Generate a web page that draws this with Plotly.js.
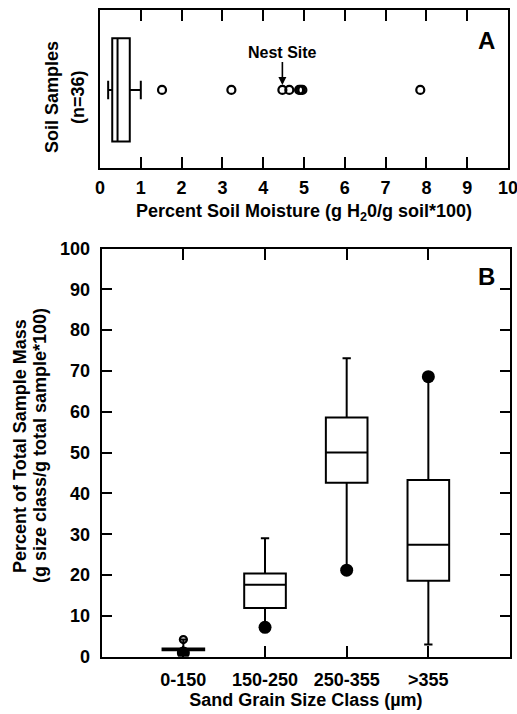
<!DOCTYPE html>
<html>
<head>
<meta charset="utf-8">
<script src="https://cdn.plot.ly/plotly-3.0.1.min.js"></script>
<style>html,body{margin:0;padding:0;background:#fff;}#chart{width:517px;height:714px;}</style>
</head>
<body>
<div id="chart"></div>
<script>
// ---- Panel A: soil moisture (n=36) ----
const moistureLower = [0.20];
const moistureQ1 = [0.30];
const moistureMedian = [0.43];
const moistureQ3 = [0.73];
const moistureUpper = [1.00];
const moistureOutliers = [1.52, 3.22, 4.47, 4.64, 4.88, 4.92, 4.96, 7.85];
const nestSiteMoisture = 4.47;
const moistureTicks = [0, 1, 2, 3, 4, 5, 6, 7, 8, 9, 10];

// ---- Panel B: sand grain size classes ----
const sizeClasses = ['0-150', '150-250', '250-355', '>355'];
const sizeLower = [0.9, 7.2, 21.2, 3.0];
const sizeQ1 = [1.6, 11.9, 42.6, 18.6];
const sizeMedian = [1.8, 17.6, 50.0, 27.4];
const sizeQ3 = [2.0, 20.4, 58.6, 43.3];
const sizeUpper = [4.2, 29.0, 73.1, 68.6];
const nestSiteValues = [0.9, 7.2, 21.2, 68.6];
const openOutlierClasses = ['0-150'];
const openOutlierValues = [4.2];
const percentTicks = [0, 10, 20, 30, 40, 50, 60, 70, 80, 90, 100];

const FONT = 'Arial, "Liberation Sans", sans-serif';
const tickFont = {family: FONT, size: 18, color: '#000', weight: 'bold'};
const W = 517, H = 714;
const boxY = 0.494;

const traces = [
  {
    type: 'box', orientation: 'h', xaxis: 'x', yaxis: 'y',
    y: [boxY], q1: moistureQ1, median: moistureMedian, q3: moistureQ3,
    lowerfence: moistureLower, upperfence: moistureUpper,
    width: 0.654, whiskerwidth: 0.18, boxpoints: false,
    line: {color: '#000', width: 2}, fillcolor: 'rgba(255,255,255,0)',
    showlegend: false, hoverinfo: 'skip'
  },
  {
    type: 'scatter', mode: 'markers', xaxis: 'x', yaxis: 'y',
    x: moistureOutliers, y: moistureOutliers.map(() => boxY),
    marker: {symbol: 'circle-open', size: 8, color: '#000', line: {width: 2.2, color: '#000'}},
    showlegend: false, hoverinfo: 'skip'
  },
  {
    type: 'box', xaxis: 'x2', yaxis: 'y2',
    x: sizeClasses, q1: sizeQ1, median: sizeMedian, q3: sizeQ3,
    lowerfence: sizeLower, upperfence: sizeUpper,
    width: 0.51, whiskerwidth: 0.2, boxpoints: false,
    line: {color: '#000', width: 2}, fillcolor: 'rgba(255,255,255,0)',
    showlegend: false, hoverinfo: 'skip'
  },
  {
    type: 'scatter', mode: 'markers', xaxis: 'x2', yaxis: 'y2',
    x: openOutlierClasses, y: openOutlierValues,
    marker: {symbol: 'circle-open', size: 7, color: '#000', line: {width: 2.2, color: '#000'}},
    showlegend: false, hoverinfo: 'skip'
  },
  {
    type: 'scatter', mode: 'markers', xaxis: 'x2', yaxis: 'y2',
    x: sizeClasses, y: nestSiteValues,
    marker: {symbol: 'circle', size: 13, color: '#000'},
    showlegend: false, hoverinfo: 'skip'
  }
];

function vText(x, y, text) {
  return {xref: 'paper', yref: 'paper', x: x / W, y: 1 - y / H, xanchor: 'center', yanchor: 'middle',
          showarrow: false, textangle: -90, text: text,
          font: {family: FONT, size: 18, weight: 'bold', color: '#000'}};
}

const layout = {
  width: W, height: H,
  margin: {l: 0, r: 0, t: 0, b: 0},
  paper_bgcolor: '#fff', plot_bgcolor: '#fff',
  font: {family: FONT, color: '#000'},
  showlegend: false,
  xaxis: {
    domain: [100 / W, 508 / W], anchor: 'y',
    range: [0, 10], tickvals: moistureTicks, ticklabeloverflow: 'allow',
    ticks: 'inside', ticklen: 11, tickwidth: 2, tickcolor: '#000',
    showline: true, linewidth: 2, linecolor: '#000', mirror: 'ticks',
    showgrid: false, zeroline: false, tickfont: tickFont, ticklabelstandoff: 2,
    title: {text: 'Percent Soil Moisture (g H<sub>2</sub>0/g soil*100)', font: {family: FONT, size: 18, weight: 'bold', color: '#000'}, standoff: 8}
  },
  yaxis: {
    domain: [1 - 168 / H, 1 - 10 / H], anchor: 'x',
    range: [0, 1], showticklabels: false, ticks: '',
    showline: true, linewidth: 2, linecolor: '#000', mirror: true,
    showgrid: false, zeroline: false
  },
  xaxis2: {
    domain: [101.7 / W, 510 / W], anchor: 'y2',
    type: 'category', categoryarray: sizeClasses, range: [-1, 4],
    ticks: 'inside', ticklen: 11, tickwidth: 2, tickcolor: '#000',
    showline: true, linewidth: 2, linecolor: '#000', mirror: 'ticks',
    showgrid: false, zeroline: false, tickfont: tickFont, ticklabelstandoff: 6,
    title: {text: 'Sand Grain Size Class (µm)', font: {family: FONT, size: 18, weight: 'bold', color: '#000'}, standoff: 4}
  },
  yaxis2: {
    domain: [1 - 656.7 / H, 1 - 248.5 / H], anchor: 'x2',
    range: [0, 100], tickvals: percentTicks, ticklabeloverflow: 'allow',
    ticks: 'inside', ticklen: 10, tickwidth: 2, tickcolor: '#000',
    showline: true, linewidth: 2, linecolor: '#000', mirror: 'ticks',
    showgrid: false, zeroline: false, tickfont: tickFont, ticklabelstandoff: 6
  },
  annotations: [
    {xref: 'x', yref: 'y', x: nestSiteMoisture, y: 0.525, ax: 0, ay: -33,
     text: 'Nest Site', showarrow: true, arrowhead: 2, arrowsize: 1, arrowwidth: 1.6, arrowcolor: '#000', standoff: 0,
     font: {family: FONT, size: 16, weight: 'bold', color: '#000'}},
    {xref: 'paper', yref: 'paper', x: 486 / W, y: 1 - 40 / H, xanchor: 'center', yanchor: 'middle', showarrow: false, text: 'A',
     font: {family: FONT, size: 24, weight: 'bold', color: '#000'}},
    {xref: 'paper', yref: 'paper', x: 486 / W, y: 1 - 277 / H, xanchor: 'center', yanchor: 'middle', showarrow: false, text: 'B',
     font: {family: FONT, size: 24, weight: 'bold', color: '#000'}},
    vText(52, 97, 'Soil Samples'),
    vText(78, 97, '(n=36)'),
    vText(20, 446, 'Percent of Total Sample Mass'),
    vText(40, 446, '(g size class/g total sample*100)')
  ]
};

Plotly.newPlot('chart', traces, layout, {displayModeBar: false, staticPlot: true});
</script>
</body>
</html>
